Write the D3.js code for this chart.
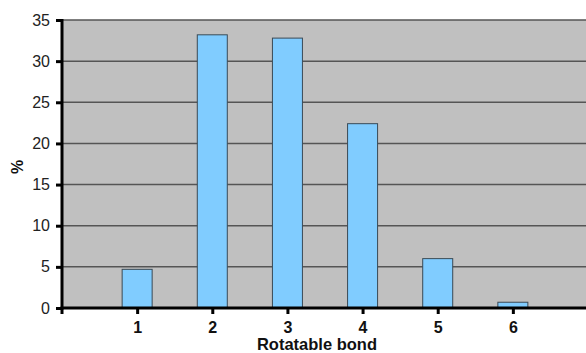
<!DOCTYPE html>
<html>
<head>
<meta charset="utf-8">
<script src="https://cdn.jsdelivr.net/npm/d3@7"></script>
<style>
  html, body { margin: 0; padding: 0; background: #fff; }
  svg { display: block; font-family: "Liberation Sans", Arial, sans-serif; }
</style>
</head>
<body>
<svg id="chart" width="586" height="353"></svg>
<script>
// Share of compounds by number of rotatable bonds
const bonds = [1, 2, 3, 4, 5, 6];
const percent = [4.7, 33.2, 32.8, 22.4, 6.0, 0.7];
const yTicks = [0, 5, 10, 15, 20, 25, 30, 35];

const svg = d3.select("#chart");
const plot = { left: 62, top: 20, right: 588, bottom: 308 };

const x = d3.scaleLinear().domain([0, 7]).range([plot.left, plot.right]);
const y = d3.scaleLinear().domain([0, 35]).range([plot.bottom, plot.top]);
const barW = 31;

// plot background
svg.append("rect")
  .attr("x", plot.left).attr("y", plot.top)
  .attr("width", plot.right - plot.left).attr("height", plot.bottom - plot.top)
  .attr("fill", "#c0c0c0");

// horizontal gridlines
svg.append("g").selectAll("line")
  .data(yTicks.filter(d => d > 0))
  .join("line")
  .attr("x1", plot.left).attr("x2", plot.right)
  .attr("y1", d => y(d)).attr("y2", d => y(d))
  .attr("stroke", "#555").attr("stroke-width", 1.5);

// bars
svg.append("g").selectAll("rect")
  .data(bonds)
  .join("rect")
  .attr("x", (d, i) => x(d) - barW / 2 + 0.5)
  .attr("y", (d, i) => y(percent[i]))
  .attr("width", barW - 1)
  .attr("height", (d, i) => y(0) - y(percent[i]))
  .attr("fill", "#80ccff")
  .attr("stroke", "#3a4a55").attr("stroke-width", 1);

// y axis
const yAxis = svg.append("g")
  .attr("transform", `translate(${plot.left},0)`)
  .call(d3.axisLeft(y).tickValues(yTicks).tickSize(6).tickPadding(6).tickFormat(d3.format("d")));
yAxis.select(".domain").remove();
yAxis.selectAll(".tick line").attr("stroke", "#000").attr("stroke-width", 3);
yAxis.selectAll(".tick text")
  .attr("font-size", 16).attr("fill", "#222")
  .attr("font-family", "Liberation Sans, Arial, sans-serif");
svg.append("line")
  .attr("x1", plot.left).attr("x2", plot.left)
  .attr("y1", plot.top - 1).attr("y2", plot.bottom + 1.5)
  .attr("stroke", "#000").attr("stroke-width", 3);

// x axis
const xAxis = svg.append("g")
  .attr("transform", `translate(0,${plot.bottom})`)
  .call(d3.axisBottom(x).tickValues(bonds).tickSize(6).tickPadding(8).tickFormat(d3.format("d")));
xAxis.select(".domain").remove();
xAxis.selectAll(".tick line").attr("stroke", "#000").attr("stroke-width", 3);
xAxis.selectAll(".tick text")
  .attr("font-size", 16).attr("font-weight", "bold").attr("fill", "#111")
  .attr("font-family", "Liberation Sans, Arial, sans-serif");
svg.append("line")
  .attr("x1", plot.left).attr("x2", plot.left)
  .attr("y1", plot.bottom).attr("y2", plot.bottom + 6)
  .attr("stroke", "#000").attr("stroke-width", 3);
svg.append("line")
  .attr("x1", plot.left - 1.5).attr("x2", plot.right)
  .attr("y1", plot.bottom).attr("y2", plot.bottom)
  .attr("stroke", "#000").attr("stroke-width", 3);

// axis titles
svg.append("text")
  .attr("x", 317).attr("y", 350)
  .attr("text-anchor", "middle")
  .attr("font-size", 16.5).attr("font-weight", "bold").attr("fill", "#111")
  .text("Rotatable bond");

svg.append("text")
  .attr("transform", `translate(23,167) rotate(-90)`)
  .attr("text-anchor", "middle")
  .attr("font-size", 16).attr("font-weight", "bold").attr("fill", "#111")
  .text("%");
</script>
</body>
</html>
